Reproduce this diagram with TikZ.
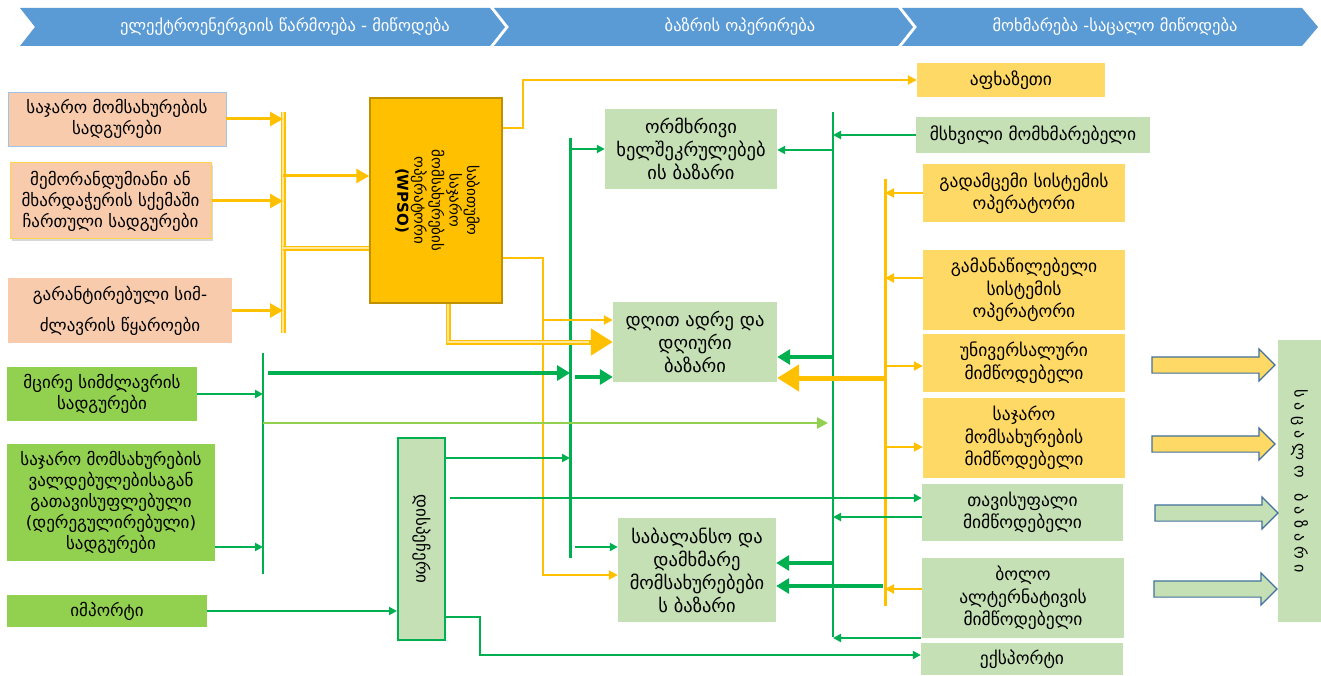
\documentclass[tikz,border=0pt]{standalone}
\usepackage{fontspec}
\usepackage{graphicx}
\setmainfont{DejaVu Sans}
\usetikzlibrary{arrows.meta,calc,shapes.arrows,shadows}
\definecolor{hdr}{HTML}{5B9BD5}
\definecolor{peach}{HTML}{F8CBAD}
\definecolor{ygold}{HTML}{FFC000}
\definecolor{ylight}{HTML}{FFE699}
\definecolor{lyel}{HTML}{FFD966}
\definecolor{lgr}{HTML}{C5E0B4}
\definecolor{mgr}{HTML}{92D050}
\definecolor{dgr}{HTML}{00B050}
\definecolor{abrd}{HTML}{41719C}
\definecolor{bbrd}{HTML}{9DC3E6}
\definecolor{wpbrd}{HTML}{BF9000}
\begin{document}
\begin{tikzpicture}[x=1pt,y=-1pt,
  bx/.style={align=center,inner sep=0pt,text=black},
  lefttxt/.style={bx,font=\fontsize{17}{21}\selectfont},
  mkttxt/.style={bx,font=\fontsize{18.5}{23}\selectfont},
  righttxt/.style={bx,font=\fontsize{17.5}{22.5}\selectfont},
  hdrtxt/.style={text=white,inner sep=0pt,font=\fontsize{16.5}{19}\selectfont},
  yl/.style={draw=ygold,line width=2pt},
  yarr/.style={yl,-{Triangle[length=9pt,width=9pt]}},
  yarrbig/.style={draw=ygold,line width=3pt,-{Triangle[length=13pt,width=14pt]}},
  ydouble/.style={draw=ygold,double=ylight,double distance=1.4pt,line width=1.8pt},
  ybig/.style={draw=ygold,line width=5pt,-{Triangle[length=22pt,width=26pt]}},
  gl/.style={draw=dgr,line width=2pt},
  garr/.style={gl,-{Triangle[length=8pt,width=8pt]}},
  gthick/.style={draw=dgr,line width=4pt,-{Triangle[length=13pt,width=15pt]}},
  lgarr/.style={draw=mgr,line width=2.5pt,-{Triangle[length=11pt,width=11pt]}},
  blockarr/.style={single arrow,draw=abrd,line width=1.2pt,inner sep=0pt,minimum width=31pt,
     single arrow head extend=8pt,single arrow head indent=0pt,minimum height=123pt}
]
\useasboundingbox (0,0) rectangle (1321,676);
\fill[white] (0,0) rectangle (1321,676);
% header band
\fill[hdr] (20,8) -- (490,8) -- (505,27) -- (490,46) -- (20,46) -- (35,27) -- cycle;
\fill[hdr] (494,8) -- (898,8) -- (913,27) -- (898,46) -- (494,46) -- (509,27) -- cycle;
\fill[hdr] (902,8) -- (1302,8) -- (1318,27) -- (1302,46) -- (902,46) -- (917,27) -- cycle;
\node[hdrtxt] (h1) at (285,27) {ელექტროენერგიის  წარმოება - მიწოდება};
\node[hdrtxt] (h2) at (740,27) {ბაზრის ოპერირება};
\node[hdrtxt] (h3) at (1115,27) {მოხმარება -საცალო მიწოდება};

% left boxes
\node[lefttxt,fill=peach,draw=bbrd,line width=0.8pt,minimum width=218pt,minimum height=54pt] (b1) at (117,119) {საჯარო მომსახურების\\სადგურები};
\node[lefttxt,fill=peach,draw=ygold!70,line width=1pt,drop shadow={shadow xshift=2pt,shadow yshift=-2pt,opacity=0.3},minimum width=201pt,minimum height=76pt] (b2) at (110.5,201) {მემორანდუმიანი ან\\მხარდაჭერის სქემაში\\ჩართული სადგურები};
\node[lefttxt,fill=peach,minimum width=224pt,minimum height=65pt] (b3) at (120,310.5) {გარანტირებული სიმ-\\[10pt]ძლავრის წყაროები};
\node[lefttxt,fill=mgr,minimum width=190pt,minimum height=54pt] (g1) at (102,394) {მცირე სიმძლავრის\\სადგურები};
\node[lefttxt,fill=mgr,minimum width=208pt,minimum height=117pt] (g2) at (111,502.5) {საჯარო მომსახურების\\ვალდებულებისაგან\\გათავისუფლებული\\(დერეგულირებული)\\სადგურები};
\node[lefttxt,fill=mgr,minimum width=200pt,minimum height=32pt] (g3) at (107,611) {იმპორტი};

% WPSO and dispatcher
\node[bx,fill=ygold,draw=wpbrd,line width=1.5pt,minimum width=132pt,minimum height=205pt] (wp) at (436,200.5)
 {\rotatebox{-90}{\fontsize{15}{17}\selectfont\begin{tabular}{@{}c@{}}საბითუმო\\საჯარო\\მომსახურების\\ოპერატორი\\\textbf{(WPSO)}\end{tabular}}};
\node[bx,fill=lgr,draw=dgr,line width=2pt,minimum width=47pt,minimum height=202pt] (disp) at (421.5,539)
 {\rotatebox{-90}{\fontsize{17}{19}\selectfont დისპეჩერი}};

% market boxes
\node[mkttxt,fill=lgr,minimum width=172pt,minimum height=80pt] (m1) at (691,149) {ორმხრივი\\ხელშეკრულებებ\\ის ბაზარი};
\node[mkttxt,fill=lgr,minimum width=164pt,minimum height=80pt] (m2) at (695,342) {დღით ადრე და\\დღიური\\ბაზარი};
\node[mkttxt,fill=lgr,minimum width=158pt,minimum height=104pt] (m3) at (697,570) {საბალანსო და\\დამხმარე\\მომსახურებები\\ს ბაზარი};

% right boxes
\node[righttxt,fill=lyel,minimum width=188pt,minimum height=34pt] (r1) at (1011,80) {აფხაზეთი};
\node[righttxt,fill=lgr,minimum width=234pt,minimum height=36pt] (r2) at (1033,135) {მსხვილი მომხმარებელი};
\node[righttxt,fill=lyel,minimum width=202pt,minimum height=58pt] (r3) at (1024,193) {გადამცემი სისტემის\\ოპერატორი};
\node[righttxt,fill=lyel,minimum width=202pt,minimum height=80pt] (r4) at (1024,290) {გამანაწილებელი\\სისტემის\\ოპერატორი};
\node[righttxt,fill=lyel,minimum width=202pt,minimum height=58pt] (r5) at (1024,363) {უნივერსალური\\მიმწოდებელი};
\node[righttxt,fill=lyel,minimum width=202pt,minimum height=80pt] (r6) at (1024,438) {საჯარო\\მომსახურების\\მიმწოდებელი};
\node[righttxt,fill=lgr,minimum width=201pt,minimum height=57pt] (r7) at (1022.5,512.5) {თავისუფალი\\მიმწოდებელი};
\node[righttxt,fill=lgr,minimum width=202pt,minimum height=80pt] (r8) at (1023,598) {ბოლო\\ალტერნატივის\\მიმწოდებელი};
\node[righttxt,fill=lgr,minimum width=202pt,minimum height=32pt] (r9) at (1022,659) {ექსპორტი};
\node[bx,fill=lgr,minimum width=43pt,minimum height=282pt] (ret) at (1299.5,481)
 {\rotatebox{-90}{\fontsize{16}{18}\selectfont ს ა ც ა ლ ო \ \ ბ ა ზ ა რ ი}};

% block arrows
\node[blockarr,fill=lyel] (a1) at (1209.5,365) {\rule{0pt}{15pt}};
\node[blockarr,fill=lyel] (a2) at (1209.5,444) {\rule{0pt}{15pt}};
\node[blockarr,fill=lgr] (a3) at (1212.5,513) {\rule{0pt}{15pt}};
\node[blockarr,fill=lgr] (a4) at (1211.5,589) {\rule{0pt}{15pt}};

% bars
\coordinate (yb1a) at (283,112); \coordinate (yb1b) at (283,333);
\coordinate (gb1a) at (263,353); \coordinate (gb1b) at (263,574);
\coordinate (gb2a) at (570,138); \coordinate (gb2b) at (570,558);
\coordinate (gb3a) at (833,112); \coordinate (gb3b) at (833,637);
\coordinate (yb2a) at (885,179); \coordinate (yb2b) at (885,606);
\draw[ydouble] (yb1a) -- (yb1b);
\draw[gl,line width=2.5pt] (gb1a) -- (gb1b);
\draw[gl,line width=3pt] (gb2a) -- (gb2b);
\draw[gl,line width=2.5pt] (gb3a) -- (gb3b);
\draw[yl,line width=3pt] (yb2a) -- (yb2b);

% left yellow inputs
\draw[yarrbig] (b1.east) -- (b1.east -| yb1a);
\draw[yarrbig] (b2.east) -- (b2.east -| yb1a);
\draw[yarrbig] (b3.east) -- (b3.east -| yb1a);
\coordinate (j1) at (283,176);
\draw[yarrbig] (j1) -- (j1 -| wp.west);
\coordinate (j2) at (283,248);
\draw[ydouble] (j2) -- (j2 -| wp.west);

% WPSO outputs
\coordinate (k1) at (523,128);
\draw[yarr] (k1 -| wp.east) -- (k1) |- (r1.west);
\coordinate (k2) at (543,258);
\draw[yarr] (k2 -| wp.east) -- (k2) |- ($(m3.west)+(0,5)$);
\coordinate (k3) at (543,320);
\draw[yarr] (k3) -- (k3 -| m2.west);
\coordinate (k4) at (448,342);
\draw[ybig] (k4 |- wp.south) -- (k4) -- (k4 -| m2.west);
\draw[ylight,line width=1.2pt,shorten >=24pt] (k4 |- wp.south) -- (k4) -- (k4 -| m2.west);

% green left
\draw[garr] (g1.east) -- (g1.east -| gb1a);
\coordinate (k5) at (263,547);
\draw[garr] (k5 -| g2.east) -- (k5);
\draw[garr] (g3.east) -- (g3.east -| disp.west);
\coordinate (k6) at (268,373);
\draw[gthick] (k6) -- (k6 -| gb2a);
\coordinate (k7) at (575,377);
\draw[gthick] (k7) -- (k7 -| m2.west);
\coordinate (k8) at (263,423);
\draw[lgarr,shorten >=5pt] (k8) -- (k8 -| gb3a);
\draw[garr] (m1.west -| gb2a) -- (m1.west);
\coordinate (k9) at (575,547);
\draw[garr] (k9) -- (k9 -| m3.west);

% dispatcher outputs
\coordinate (k10) at (445,458);
\draw[garr] (k10) -- (k10 -| gb2a);
\coordinate (k11) at (450,498);
\draw[garr] (k11) -- (k11 -| r7.west);
\coordinate (k12) at (480,617);
\draw[garr] (k12 -| disp.east) -- (k12) |- ($(r9.west)+(0,-4)$);

% right green bar
\draw[garr] (r2.west) -- (r2.west -| gb3a);
\coordinate (k13) at (833,150);
\draw[garr] (k13) -- (k13 -| m1.east);
\coordinate (k14) at (833,357);
\draw[gthick] (k14) -- (k14 -| m2.east);
\coordinate (k15) at (833,563);
\draw[gthick] (k15) -- (k15 -| m3.east);
\coordinate (k16) at (922,517);
\draw[garr] (k16) -- (k16 -| gb3a);
\coordinate (k17) at (921,638);
\draw[garr] (k17) -- (k17 -| gb3a);

% right yellow bar
\draw[yarr] (r3.west) -- (r3.west -| yb2a);
\coordinate (k19) at (923,278);
\draw[yarr] (k19) -- (k19 -| yb2a);
\coordinate (k20) at (885,378);
\draw[ybig] (k20) -- (k20 -| m2.east);
\coordinate (k21) at (885,366);
\draw[yarr] (k21) -- (k21 -| r5.west);
\coordinate (k22) at (885,447);
\draw[yarr] (k22) -- (k22 -| r6.west);
\coordinate (k23) at (922,589);
\draw[yarr] (k23) -- (k23 -| yb2a);
\coordinate (k24) at (883,586);
\draw[gthick] (k24) -- (k24 -| m3.east);
\end{tikzpicture}
\end{document}
